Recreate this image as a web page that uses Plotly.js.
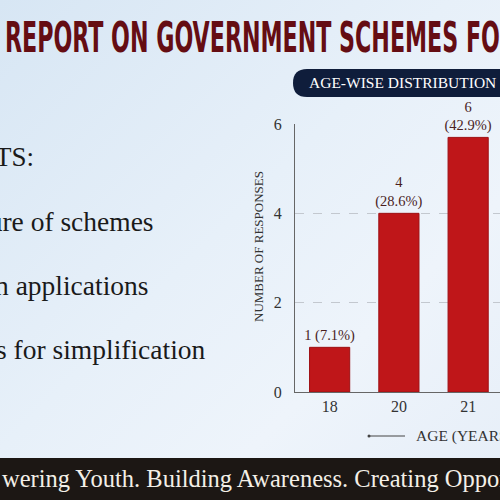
<!DOCTYPE html>
<html>
<head>
<meta charset="utf-8">
<script src="https://cdn.plot.ly/plotly-3.0.1.min.js"></script>
<style>
html,body{margin:0;padding:0;width:500px;height:500px;overflow:hidden;
background:linear-gradient(135deg,#d7e6f4 0%,#e7f0f9 45%,#eef4fb 70%,#e6eef8 100%);}
#chart{width:500px;height:500px;}
</style>
</head>
<body>
<div id="chart"></div>
<script>
// ---- data ----
const ages = ['18', '20', '21'];
const barHeights = [1, 4, 5.7];            // bar tops as drawn
const barLabels = ['1 (7.1%)', '4<br>(28.6%)', '6<br>(42.9%)'];
const yTicks = [0, 2, 4, 6];

const titleText = 'REPORT ON GOVERNMENT SCHEMES FOR';
const panelTitle = 'AGE-WISE DISTRIBUTION OF RESPONDENTS';
const sideLines = ['TS:', 'ture of schemes', 'n applications', 's for simplification'];
const footerText = 'wering Youth. Building Awareness. Creating Opportunities.';
const yTitle = 'NUMBER OF RESPONSES';
const xTitle = 'AGE (YEARS)';

// ---- layout geometry (pixels) ----
const W = 500, H = 500;
const M = {l: 295, r: 0, t: 124, b: 108};
const PW = W - M.l - M.r, PH = H - M.t - M.b;
const X = px => (px - M.l) / PW;
const Y = py => (H - M.b - py) / PH;

const serif = '"Liberation Serif", "Times New Roman", serif';

const trace = {
  type: 'bar',
  x: ages,
  y: barHeights,
  text: barLabels,
  textposition: 'outside',
  texttemplate: '%{text}',
  cliponaxis: false,
  constraintext: 'none',
  textfont: {family: serif, size: 14.5, color: '#4a1e1e'},
  marker: {color: '#bf1619', line: {color: '#9e1014', width: 1}},
  hoverinfo: 'none'
};

const annotations = [
  {text: titleText, xref: 'paper', yref: 'paper', x: X(3), y: Y(37), xanchor: 'left', yanchor: 'middle',
   showarrow: false, font: {family: 'DejaVu Sans Condensed, DejaVu Sans, sans-serif', size: 42, color: '#650d13', weight: 'bold'}},
  {text: panelTitle, xref: 'paper', yref: 'paper', x: X(307), y: Y(83), xanchor: 'left', yanchor: 'middle',
   showarrow: false, font: {family: serif, size: 15.5, color: '#ffffff'}},
  {text: yTitle, xref: 'paper', yref: 'paper', x: X(258), y: Y(247), xanchor: 'center', yanchor: 'middle',
   textangle: -90, showarrow: false, font: {family: serif, size: 13, color: '#333333'}},
  {text: xTitle, xref: 'paper', yref: 'paper', x: X(414), y: Y(436), xanchor: 'left', yanchor: 'middle',
   showarrow: false, font: {family: serif, size: 15.5, color: '#333333'}},
  {text: footerText, xref: 'paper', yref: 'paper', x: X(0), y: Y(478), xanchor: 'left', yanchor: 'middle',
   showarrow: false, font: {family: serif, size: 24.5, color: '#f3efe7'}},
  {text: sideLines[0], xref: 'paper', yref: 'paper', x: X(36), y: Y(157), xanchor: 'right', yanchor: 'middle',
   showarrow: false, font: {family: serif, size: 27, color: '#1a1a1a'}},
  {text: sideLines[1], xref: 'paper', yref: 'paper', x: X(156), y: Y(221), xanchor: 'right', yanchor: 'middle',
   showarrow: false, font: {family: serif, size: 27.5, color: '#1a1a1a'}},
  {text: sideLines[2], xref: 'paper', yref: 'paper', x: X(151), y: Y(285), xanchor: 'right', yanchor: 'middle',
   showarrow: false, font: {family: serif, size: 27.5, color: '#1a1a1a'}},
  {text: sideLines[3], xref: 'paper', yref: 'paper', x: X(208), y: Y(349), xanchor: 'right', yanchor: 'middle',
   showarrow: false, font: {family: serif, size: 27.5, color: '#1a1a1a'}}
];

const pill = `M ${X(307)},${Y(69)} L ${X(520)},${Y(69)} L ${X(520)},${Y(97)} L ${X(307)},${Y(97)} ` +
  `Q ${X(293)},${Y(97)} ${X(293)},${Y(83)} Q ${X(293)},${Y(69)} ${X(307)},${Y(69)} Z`;

const shapes = [
  {type: 'path', xref: 'paper', yref: 'paper', path: pill, fillcolor: '#0f1d3b', line: {width: 0}},
  {type: 'rect', xref: 'paper', yref: 'paper', x0: X(0), x1: X(500), y0: Y(458), y1: Y(500),
   fillcolor: '#1c1714', line: {width: 0}},
  {type: 'line', xref: 'paper', yref: 'paper', x0: X(369), x1: X(405), y0: Y(436), y1: Y(436),
   line: {color: '#444444', width: 1}},
  {type: 'circle', xref: 'paper', yref: 'paper', x0: X(367.5), x1: X(370.5), y0: Y(434.5), y1: Y(437.5),
   fillcolor: '#444444', line: {width: 0}}
];

const layout = {
  width: W, height: H,
  margin: M,
  paper_bgcolor: 'rgba(0,0,0,0)',
  plot_bgcolor: 'rgba(0,0,0,0)',
  showlegend: false,
  bargap: 0.42,
  xaxis: {
    type: 'category', range: [-0.5, 2.46], showgrid: false, zeroline: false,
    showline: true, linecolor: '#666666', linewidth: 1, ticks: '',
    tickfont: {family: serif, size: 16, color: '#333333'}
  },
  yaxis: {
    range: [0, 6], tickvals: yTicks, showgrid: true, gridcolor: '#c3c8cf', griddash: 'dash', gridwidth: 1,
    zeroline: false, showline: true, linecolor: '#666666', linewidth: 1, ticks: '',
    ticklabelstandoff: 9,
    tickfont: {family: serif, size: 16, color: '#333333'}
  },
  annotations: annotations,
  shapes: shapes
};

Plotly.newPlot('chart', [trace], layout, {staticPlot: true, displayModeBar: false}).then(() => {
  // condense the headline to mimic the narrow display face
  document.querySelectorAll('.annotation-text').forEach(t => {
    if (t.textContent === titleText) {
      const bb = t.getBBox();
      t.setAttribute('text-anchor', 'start');
      t.setAttribute('x', bb.x);
      t.setAttribute('textLength', 512);
      t.setAttribute('lengthAdjust', 'spacingAndGlyphs');
    }
  });
});
</script>
</body>
</html>
